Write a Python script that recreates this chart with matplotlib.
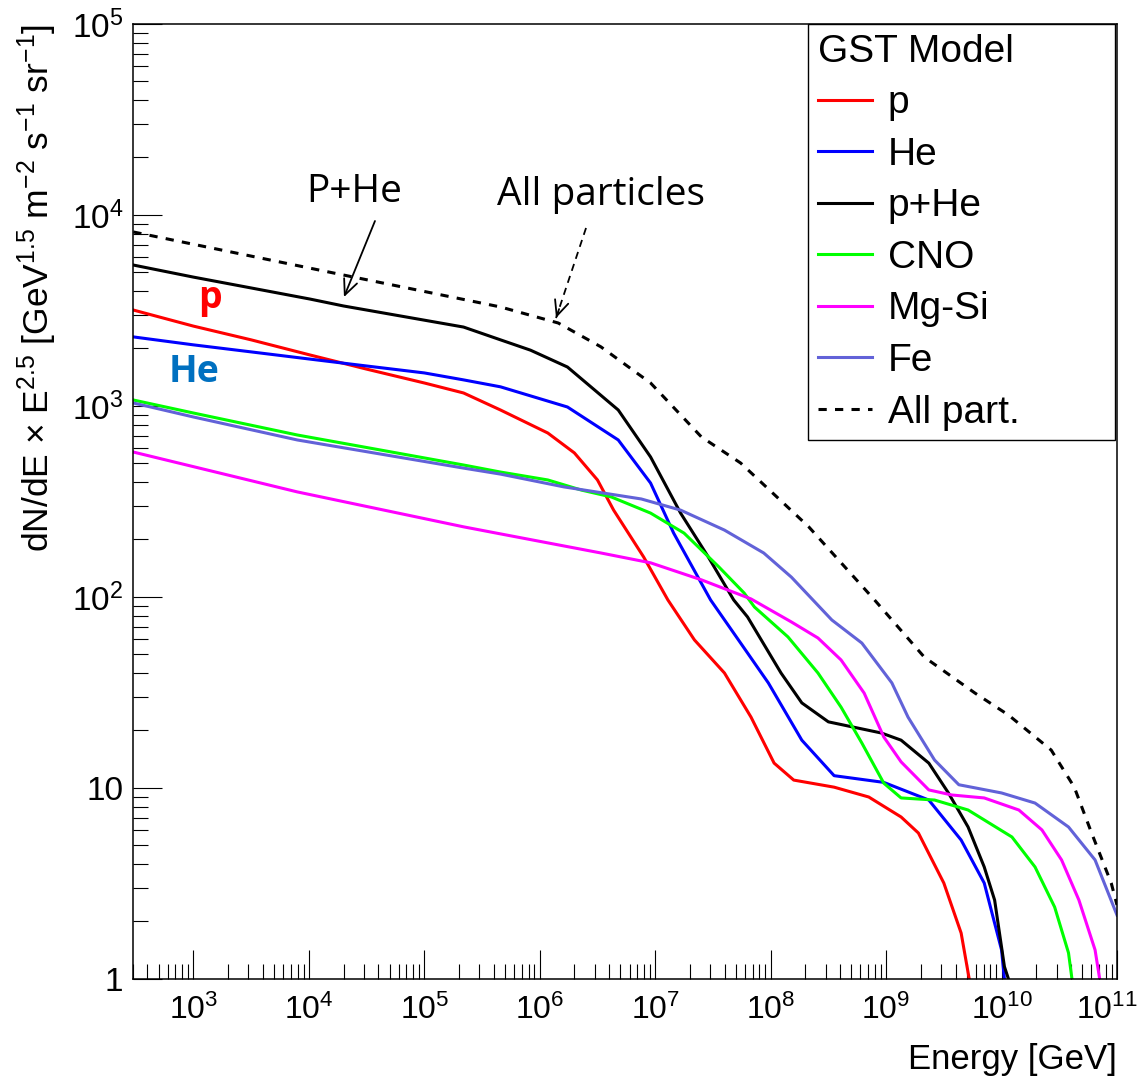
import numpy as np
import matplotlib.pyplot as plt
import matplotlib.transforms as mtransforms
from matplotlib.ticker import LogLocator, NullFormatter, FuncFormatter

# Fuentes: Helvetica (ROOT) -> Liberation Sans
plt.rcParams['font.family'] = 'Liberation Sans'
plt.rcParams['mathtext.fontset'] = 'custom'
plt.rcParams['mathtext.rm'] = 'Liberation Sans'
plt.rcParams['mathtext.it'] = 'Liberation Sans:italic'
plt.rcParams['mathtext.bf'] = 'Liberation Sans:bold'

# Puntos: log10(E/GeV) y dN/dE x E^2.5
loge_p = [2.48, 3.0, 3.5, 4.01, 4.5, 5.0, 5.34, 5.66, 6.07, 6.3, 6.5, 6.64, 6.9, 7.11, 7.34,
          7.6, 7.83, 8.03, 8.2, 8.55, 8.85, 9.13, 9.28, 9.5, 9.65, 9.72]
flux_p = [3180, 2620, 2220, 1850, 1560, 1320, 1170, 953, 722, 568, 410, 285, 162, 96.5, 59.6,
          40.0, 23.5, 13.5, 11.0, 10.1, 8.97, 7.05, 5.81, 3.18, 1.74, 1.0]

loge_he = [2.48, 3.0, 3.5, 4.01, 4.5, 5.0, 5.34, 5.66, 6.24, 6.68, 6.96, 7.16, 7.4, 7.48,
           7.74, 7.98, 8.27, 8.55, 8.98, 9.37, 9.65, 9.85, 10.0, 10.025]
flux_he = [2300, 2090, 1920, 1760, 1620, 1490, 1370, 1260, 988, 664, 395, 216, 118, 96.5,
           57.4, 35.5, 17.8, 11.6, 10.7, 8.65, 5.34, 3.18, 1.42, 1.0]

loge_phe = [2.48, 3.0, 3.5, 4.01, 4.3, 5.34, 5.66, 5.92, 6.24, 6.68, 6.96, 7.22, 7.46, 7.68,
            7.8, 8.09, 8.27, 8.5, 8.96, 9.13, 9.37, 9.54, 9.71, 9.85, 9.94, 10.025, 10.06]
flux_phe = [5470, 4730, 4150, 3630, 3340, 2590, 2220, 1960, 1600, 953, 541, 275, 162, 96.5,
            78.6, 40.0, 27.9, 22.2, 19.4, 17.8, 13.5, 9.42, 6.25, 3.86, 2.59, 1.16, 1.0]

loge_cno = [2.48, 3.0, 3.9, 5.34, 5.66, 6.07, 6.36, 6.62, 6.96, 7.25, 7.55, 7.77, 7.86, 8.15,
            8.41, 8.61, 8.79, 8.98, 9.13, 9.42, 9.71, 10.09, 10.29, 10.46, 10.58, 10.61]
flux_cno = [1075, 919, 705, 491, 451, 410, 363, 334, 275, 216, 144, 105, 88.6, 61.8, 40.0,
            26.5, 17.2, 10.6, 8.87, 8.65, 7.67, 5.54, 3.86, 2.38, 1.37, 1.0]

loge_mgsi = [2.48, 3.9, 5.34, 5.66, 6.53, 6.96, 7.4, 7.83, 8.18, 8.41, 8.61, 8.81, 8.98,
             9.13, 9.37, 9.57, 9.85, 10.15, 10.35, 10.52, 10.67, 10.81, 10.85]
flux_mgsi = [574, 355, 233, 214, 170, 151, 123, 97.7, 74.0, 61.0, 46.8, 31.4, 18.5, 13.7,
             9.77, 9.19, 8.87, 7.67, 6.03, 4.20, 2.59, 1.42, 1.0]

loge_fe = [2.48, 3.0, 3.9, 5.34, 5.66, 6.21, 6.36, 6.88, 7.22, 7.6, 7.94, 8.18, 8.53, 8.79,
           9.05, 9.19, 9.42, 9.63, 10.0, 10.29, 10.58, 10.81, 11.0]
flux_fe = [1037, 876, 664, 473, 440, 377, 365, 326, 285, 224, 170, 127, 75.8, 57.4, 35.5,
           23.5, 14.0, 10.4, 9.42, 8.34, 6.25, 4.20, 2.16]

loge_all = [2.48, 4.3, 5.66, 6.16, 6.53, 6.96, 7.4, 7.74, 8.33, 8.9, 9.33, 9.77, 10.06,
            10.43, 10.63, 10.78, 10.95, 11.0]
flux_all = [8150, 4850, 3300, 2720, 2040, 1320, 689, 503, 233, 96.5, 48.5, 31.4, 24.1, 15.8,
            10.1, 5.81, 3.18, 2.44]

x_decades = [3, 4, 5, 6, 7, 8, 9, 10, 11]

series = [
    (loge_p, flux_p, 'red', '-', 'p'),
    (loge_he, flux_he, 'blue', '-', 'He'),
    (loge_phe, flux_phe, 'black', '-', 'p+He'),
    (loge_cno, flux_cno, '#00ff00', '-', 'CNO'),
    (loge_mgsi, flux_mgsi, '#ff00ff', '-', 'Mg-Si'),
    (loge_fe, flux_fe, '#6262d8', '-', 'Fe'),
    (loge_all, flux_all, 'black', (0, (2.7, 2.7)), 'All part.'),
]

fig = plt.figure(figsize=(11.44, 10.78), dpi=100)
ax = fig.add_axes([0.11626, 0.09184, 0.86014, 0.8859])

for e, f, c, ls, lab in series:
    ax.plot(10 ** np.array(e), f, color=c, linestyle=ls, linewidth=2.2, label=lab)

ax.set_xscale('log')
ax.set_yscale('log')
ax.set_xlim(300, 1e11)
ax.set_ylim(1, 1e5)

ax.set_xticks([10.0 ** d for d in x_decades], [r'$10^{%d}$' % d for d in x_decades])
ax.xaxis.set_minor_locator(LogLocator(base=10, subs=range(2, 10), numticks=50))
ax.yaxis.set_major_locator(LogLocator(base=10, numticks=20))
ax.yaxis.set_minor_locator(LogLocator(base=10, subs=range(2, 10), numticks=50))
ax.xaxis.set_minor_formatter(NullFormatter())
ax.yaxis.set_minor_formatter(NullFormatter())


def fmt_y(v, pos):
    n = int(round(np.log10(v)))
    if n == 0:
        return '1'
    if n == 1:
        return '10'
    return r'$10^{%d}$' % n


ax.yaxis.set_major_formatter(FuncFormatter(fmt_y))

ax.tick_params(which='both', direction='in', top=False, right=False, width=0.8, labelsize=24)
ax.tick_params(axis='x', labelsize=23)
ax.tick_params(which='major', length=21)
ax.tick_params(which='minor', length=11)
ax.tick_params(axis='x', which='major', pad=11)
ax.tick_params(axis='y', which='major', pad=7)
for s in ax.spines.values():
    s.set_linewidth(1.1)

# la etiqueta 10^11 queda pegada al borde: desplazarla un poco a la izquierda
last = ax.get_xticklabels()[-1]
last.set_transform(last.get_transform() + mtransforms.ScaledTranslation(-10 / 100, 0, fig.dpi_scale_trans))

ax.set_xlabel('Energy [GeV]', fontsize=25, loc='right')
ax.xaxis.set_label_coords(1.0, -0.067)
ax.set_ylabel(r'dN/dE $\times$ E$^{2.5}$ [GeV$^{1.5}$ m$^{-2}$ s$^{-1}$ sr$^{-1}$]',
              fontsize=25.5, loc='top')
ax.yaxis.set_label_coords(-0.075, 1.0)

leg = ax.legend(title='GST Model', loc='upper left', bbox_to_anchor=(0.686, 0.561, 0.312, 0.439),
                mode='expand', fontsize=28, title_fontsize=28, alignment='left',
                frameon=True, fancybox=False, edgecolor='black', framealpha=1,
                borderaxespad=0, handlelength=1.4, handletextpad=0.4,
                labelspacing=0.4, borderpad=0.25)
leg.get_frame().set_linewidth(1.0)

# Anotaciones
ax.text(0.2246, 0.8136, 'P+He', transform=ax.transAxes, ha='center', va='baseline',
        fontsize=28, family='Open Sans')
ax.annotate('', xy=(0.2144, 0.7141), xytext=(0.2459, 0.7937), xycoords='axes fraction',
            arrowprops=dict(arrowstyle='->,head_length=1.1,head_width=0.5', color='black',
                            lw=1.3, shrinkA=0, shrinkB=0))

ax.text(0.4761, 0.8105, 'All particles', transform=ax.transAxes, ha='center', va='baseline',
        fontsize=28, family='Open Sans')
ax.plot([0.4604, 0.4299], [0.7864, 0.6921], transform=ax.transAxes, color='black',
        lw=1.3, linestyle=(0, (4, 3)))
ax.annotate('', xy=(0.4299, 0.6921), xytext=(0.4330, 0.7015), xycoords='axes fraction',
            arrowprops=dict(arrowstyle='->,head_length=1.1,head_width=0.5', color='black',
                            lw=1.3, shrinkA=0, shrinkB=0))

ax.text(0.078, 0.7026, 'p', transform=ax.transAxes, ha='center', va='baseline',
        fontsize=27, fontweight='bold', color='red', family='Open Sans')
ax.text(0.062, 0.625, 'He', transform=ax.transAxes, ha='center', va='baseline',
        fontsize=27, fontweight='bold', color='#0070C0', family='Open Sans')

plt.savefig('out.png', dpi=100)
